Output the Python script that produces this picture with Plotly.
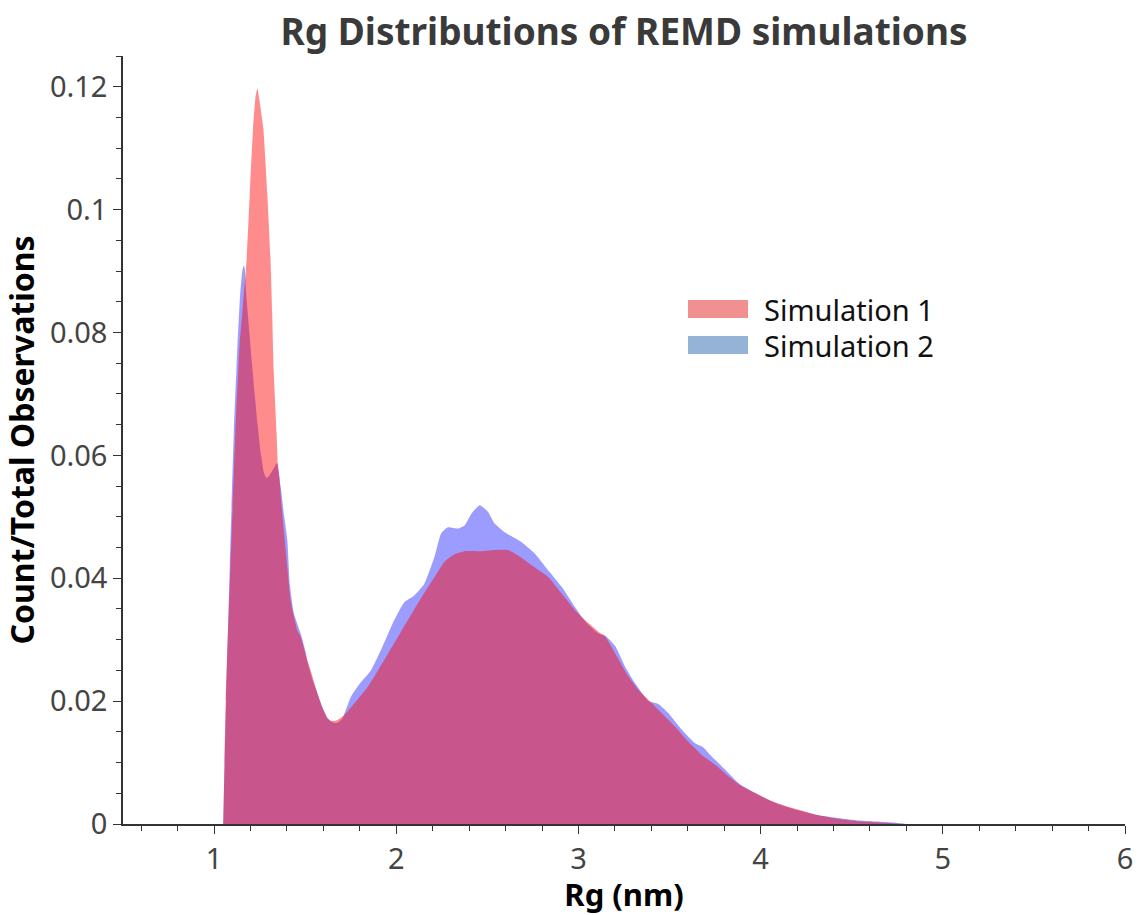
import plotly.graph_objects as go

# Rg distribution, Simulation 1
rg_sim1 = [1.050, 1.053, 1.064, 1.090, 1.117, 1.140, 1.156, 1.178, 1.196, 1.214,
           1.228, 1.238, 1.248, 1.270, 1.292, 1.310, 1.319, 1.327, 1.343, 1.350,
           1.358, 1.374, 1.402, 1.420, 1.457, 1.475, 1.503, 1.530, 1.567, 1.595,
           1.622, 1.640, 1.668, 1.714, 1.769, 1.843, 1.934, 2.026, 2.118, 2.210,
           2.265, 2.320, 2.375, 2.467, 2.540, 2.614, 2.669, 2.743, 2.834, 2.908,
           2.981, 3.036, 3.110, 3.146, 3.201, 3.275, 3.330, 3.385, 3.459, 3.532,
           3.606, 3.679, 3.752, 3.826, 3.900, 3.973, 4.047, 4.120, 4.212, 4.303,
           4.413, 4.524, 4.634, 4.744, 4.818]
frac_sim1 = [0.0, 0.004, 0.020, 0.042, 0.064, 0.078, 0.0835, 0.0917, 0.1026, 0.1133,
             0.1185, 0.1197, 0.118, 0.1133, 0.1026, 0.0917, 0.0831, 0.074, 0.0636, 0.0587,
             0.0565, 0.0506, 0.0418, 0.0364, 0.0315, 0.0305, 0.0275, 0.025, 0.0213, 0.0189,
             0.0172, 0.0168, 0.0168, 0.0177, 0.0196, 0.0223, 0.0267, 0.0313, 0.0359, 0.0402,
             0.0427, 0.0439, 0.0444, 0.0444, 0.0446, 0.0446, 0.0437, 0.0421, 0.0402, 0.0375,
             0.0348, 0.0332, 0.0313, 0.0305, 0.0278, 0.0240, 0.0218, 0.0202, 0.0180, 0.0158,
             0.0133, 0.0112, 0.0096, 0.0077, 0.0061, 0.0050, 0.0039, 0.0031, 0.0023, 0.0015,
             0.0009, 0.0005, 0.0003, 0.0001, 0.0]

# Rg distribution, Simulation 2
rg_sim2 = [1.050, 1.053, 1.066, 1.086, 1.108, 1.123, 1.141, 1.155, 1.163, 1.168,
           1.176, 1.208, 1.237, 1.258, 1.275, 1.290, 1.320, 1.345, 1.365, 1.383,
           1.402, 1.416, 1.438, 1.475, 1.503, 1.512, 1.540, 1.567, 1.595, 1.622,
           1.645, 1.668, 1.688, 1.705, 1.751, 1.806, 1.861, 1.916, 1.989, 2.044,
           2.099, 2.154, 2.210, 2.246, 2.283, 2.338, 2.375, 2.412, 2.458, 2.504,
           2.540, 2.595, 2.687, 2.761, 2.834, 2.908, 2.981, 3.036, 3.110, 3.146,
           3.201, 3.256, 3.311, 3.385, 3.440, 3.495, 3.569, 3.642, 3.679, 3.734,
           3.807, 3.881, 3.973, 4.083, 4.194, 4.303, 4.413, 4.524, 4.634, 4.744,
           4.800]
frac_sim2 = [0.0, 0.004, 0.020, 0.042, 0.0636, 0.0743, 0.0852, 0.0900, 0.0909, 0.0905,
             0.0865, 0.0750, 0.0655, 0.0600, 0.0570, 0.0563, 0.0575, 0.0587, 0.0550, 0.0505,
             0.0462, 0.0390, 0.0343, 0.0310, 0.0280, 0.0265, 0.0235, 0.0213, 0.0190, 0.0173,
             0.0166, 0.0164, 0.0167, 0.0172, 0.0207, 0.0231, 0.0250, 0.0283, 0.0332, 0.0361,
             0.0372, 0.0391, 0.0435, 0.0473, 0.0483, 0.0481, 0.0486, 0.0505, 0.0519, 0.0508,
             0.0489, 0.0475, 0.0459, 0.0440, 0.0413, 0.0386, 0.0353, 0.0330, 0.0310, 0.0307,
             0.0290, 0.0256, 0.0229, 0.0200, 0.0195, 0.0180, 0.0153, 0.0131, 0.0126, 0.0109,
             0.0088, 0.0066, 0.0050, 0.0034, 0.0023, 0.0015, 0.0010, 0.0006, 0.0004, 0.0002,
             0.0]

series_names = ["Simulation 1", "Simulation 2"]
legend_colors = ["#F09090", "#95B3D7"]

W, H = 1144, 915
M_L, M_R, M_T, M_B = 123, 19, 56, 91
FONT = "Noto Sans"

fig = go.Figure()

# Simulation 2 drawn first, Simulation 1 overlaid on top
fig.add_trace(go.Scatter(
    x=rg_sim2, y=frac_sim2, mode="lines", fill="tozeroy",
    line=dict(width=0, color="rgba(0,0,255,0)", shape="spline", smoothing=0.5),
    fillcolor="rgba(0,0,255,0.39)", name=series_names[1], showlegend=False,
    hoverinfo="x+y"))
fig.add_trace(go.Scatter(
    x=rg_sim1, y=frac_sim1, mode="lines", fill="tozeroy",
    line=dict(width=0, color="rgba(255,0,0,0)", shape="spline", smoothing=0.5),
    fillcolor="rgba(255,0,0,0.45)", name=series_names[0], showlegend=False,
    hoverinfo="x+y"))

# Legend block: swatches and labels placed in paper coordinates
pw, ph = W - M_L - M_R, H - M_T - M_B
def px_x(p):
    return (p - M_L) / pw
def px_y(p):
    return (H - M_B - p) / ph

shapes, annotations = [], []
for i, (name, col) in enumerate(zip(series_names, legend_colors)):
    top = 300 + i * 36
    shapes.append(dict(type="rect", xref="paper", yref="paper",
                       x0=px_x(688), x1=px_x(748), y0=px_y(top + 18), y1=px_y(top),
                       fillcolor=col, line=dict(width=0), layer="above"))
    annotations.append(dict(xref="paper", yref="paper", x=px_x(762), y=px_y(top + 9),
                            xanchor="left", yanchor="middle", showarrow=False,
                            text=name, height=34, valign="middle",
                            font=dict(family=FONT, size=29, color="#111111")))

axis_common = dict(
    showline=True, linecolor="#333333", linewidth=1.5, mirror=False,
    showgrid=False, zeroline=False, automargin=False,
    ticks="outside", ticklen=8, tickwidth=1, tickcolor="#333333",
    tickfont=dict(family=FONT, size=29, color="#444444"),
)

fig.update_layout(
    width=W, height=H,
    margin=dict(l=M_L, r=M_R, t=M_T, b=M_B, autoexpand=False),
    paper_bgcolor="white", plot_bgcolor="white",
    title=dict(text="Rg Distributions of REMD simulations",
               x=0.5, xref="paper", y=1 - 32 / H, yref="container",
               xanchor="center", yanchor="middle",
               font=dict(family=FONT, size=37, color="#3a3a3a", weight="bold")),
    xaxis=dict(range=[0.5, 6], dtick=1, tick0=0,
               minor=dict(ticks="outside", dtick=0.2, tick0=0, ticklen=5,
                          tickcolor="#333333", tickwidth=1),
               title=dict(text="Rg (nm)", standoff=13,
                          font=dict(family=FONT, size=31, color="#000000", weight="bold")),
               **axis_common),
    yaxis=dict(range=[0, 0.125], dtick=0.02, tick0=0,
               minor=dict(ticks="outside", dtick=0.005, tick0=0, ticklen=5,
                          tickcolor="#333333", tickwidth=1),
               title=dict(text="Count/Total Observations", standoff=10,
                          font=dict(family=FONT, size=32, color="#000000", weight="bold")),
               **axis_common),
    shapes=shapes, annotations=annotations,
    showlegend=False,
)

fig.write_html("out.html")
